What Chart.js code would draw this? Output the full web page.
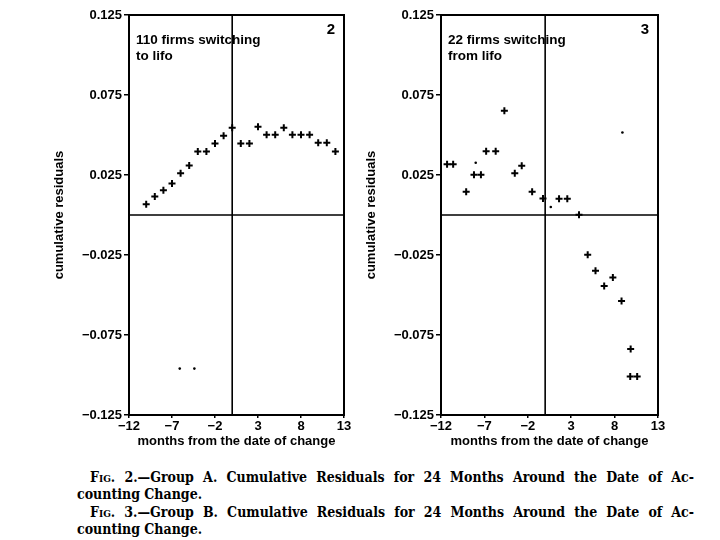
<!DOCTYPE html>
<html>
<head>
<meta charset="utf-8">
<script src="https://cdn.jsdelivr.net/npm/chart.js@4.4.1/dist/chart.umd.min.js"></script>
<style>
body { margin: 0; background: #fff; width: 720px; height: 540px; position: relative; overflow: hidden; }
canvas { position: absolute; top: 0; }
#left { left: 0; }
#right { left: 360px; }
.cap { position: absolute; font-family: "DejaVu Serif", serif; font-stretch: condensed; font-weight: bold; font-size: 14px; line-height: 17.5px; color: #000; white-space: nowrap; }
.just { white-space: normal; text-align: justify; text-align-last: justify; }
.sc { font-variant: small-caps; }
</style>
</head>
<body>
<canvas id="left" width="360" height="460"></canvas>
<canvas id="right" width="360" height="460"></canvas>
<div class="cap just" style="left:90px;top:469px;width:604px"><span class="sc">Fig.</span> 2.—Group A. Cumulative Residuals for 24 Months Around the Date of Ac-</div>
<div class="cap" style="left:77px;top:486px">counting Change.</div>
<div class="cap just" style="left:90px;top:504px;width:604px"><span class="sc">Fig.</span> 3.—Group B. Cumulative Residuals for 24 Months Around the Date of Ac-</div>
<div class="cap" style="left:77px;top:521px">counting Change.</div>
<script>
// tick labels
var xTicks = [-12, -7, -2, 3, 8, 13];
var yTicks = [-0.125, -0.075, -0.025, 0.025, 0.075, 0.125];

// Group A: 110 firms switching to lifo
var monthsA = [-10, -9, -8, -7, -6, -5, -4, -3, -2, -1, 0, 1, 2, 3, 4, 5, 6, 7, 8, 9, 10, 11, 12];
var residA = [0.0067, 0.0115, 0.0154, 0.0197, 0.0261, 0.0309, 0.0397, 0.0397, 0.0447, 0.0496, 0.0546,
  0.0447, 0.0447, 0.0552, 0.0501, 0.0501, 0.0546, 0.0501, 0.0501, 0.0501, 0.0451, 0.0451, 0.0397];
var dotMonthsA = [-6.1, -4.4];
var dotResidA = [-0.096, -0.096];

// Group B: 22 firms switching from lifo
var monthsB = [-11.3, -10.6, -9.1, -8.2, -7.4, -6.8, -5.7, -4.7, -3.5, -2.7, -1.5, -0.25, 1.6, 2.55,
  3.9, 4.9, 5.8, 6.8, 7.8, 8.8, 9.85, 9.8, 10.6];
var residB = [0.0317, 0.0317, 0.0145, 0.0252, 0.0252, 0.0399, 0.0399, 0.0652, 0.0261, 0.0308, 0.0145,
  0.0103, 0.0101, 0.0101, 0.0002, -0.0248, -0.0348, -0.0443, -0.0391, -0.0537, -0.0837, -0.101, -0.101];
var dotMonthsB = [-8.0, 0.65, 8.9];
var dotResidB = [0.0327, 0.005, 0.0516];

var sans = '"Liberation Sans", Arial, sans-serif';

function minus(s) { return String(s).replace('-', '\u2212'); }

function toPoints(xs, ys) {
  return xs.map(function (x, i) { return { x: x, y: ys[i] }; });
}

var panelDecor = {
  id: 'panelDecor',
  beforeDatasetsDraw: function (chart, args, opts) {
    var ctx = chart.ctx, a = chart.chartArea;
    var x0 = chart.scales.x.getPixelForValue(0);
    var y0 = chart.scales.y.getPixelForValue(0);
    ctx.save();
    ctx.strokeStyle = '#000';
    ctx.lineWidth = 1.6;
    ctx.beginPath();
    ctx.moveTo(x0, a.top); ctx.lineTo(x0, a.bottom);
    ctx.moveTo(a.left, y0); ctx.lineTo(a.right, y0);
    ctx.stroke();
    ctx.lineWidth = 2;
    ctx.strokeRect(a.left, a.top, a.right - a.left, a.bottom - a.top);

    ctx.fillStyle = '#000';
    ctx.textBaseline = 'alphabetic';
    ctx.textAlign = 'left';
    ctx.font = 'bold 13.5px ' + sans;
    opts.lines.forEach(function (t, i) {
      ctx.fillText(t, a.left + 7, a.top + 29 + i * 16);
    });
    ctx.textAlign = 'right';
    ctx.font = 'bold 15px ' + sans;
    ctx.fillText(opts.num, a.right - 9, a.top + 19);
    ctx.restore();
  }
};

function makePanel(id, months, resid, dotMonths, dotResid, lines, num, padL, padR) {
  return new Chart(document.getElementById(id), {
    type: 'scatter',
    data: {
      datasets: [
        {
          data: toPoints(months, resid),
          pointStyle: 'cross',
          pointRadius: 3.5,
          borderWidth: 2,
          borderColor: '#000'
        },
        {
          data: toPoints(dotMonths, dotResid),
          pointStyle: 'circle',
          pointRadius: 1.3,
          borderWidth: 0,
          backgroundColor: '#000'
        }
      ]
    },
    options: {
      responsive: false,
      animation: false,
      devicePixelRatio: 1,
      layout: { padding: { left: padL, right: padR, top: 15, bottom: 11 } },
      plugins: {
        legend: { display: false },
        tooltip: { enabled: false },
        panelDecor: { lines: lines, num: num }
      },
      scales: {
        x: {
          type: 'linear',
          min: -12,
          max: 13,
          afterBuildTicks: function (s) { s.ticks = xTicks.map(function (v) { return { value: v }; }); },
          afterFit: function (s) { s.height = 34; },
          ticks: {
            color: '#000',
            padding: 1,
            font: { family: sans, size: 13, weight: 'bold' },
            callback: function (v) { return minus(v); }
          },
          grid: { drawOnChartArea: false, drawTicks: true, tickLength: 3, color: '#000', lineWidth: 1.5 },
          border: { display: false },
          title: {
            display: true,
            text: 'months from the date of change',
            color: '#000',
            padding: { top: 0, bottom: 0 },
            font: { family: sans, size: 13, weight: 'bold' }
          }
        },
        y: {
          min: -0.125,
          max: 0.125,
          afterBuildTicks: function (s) { s.ticks = yTicks.map(function (v) { return { value: v }; }); },
          afterFit: function (s) { s.width = 77; },
          ticks: {
            color: '#000',
            padding: 2,
            font: { family: sans, size: 13, weight: 'bold' },
            callback: function (v) { return minus(v.toFixed(3)); }
          },
          grid: { drawOnChartArea: false, drawTicks: true, tickLength: 5, color: '#000', lineWidth: 1.5 },
          border: { display: false },
          title: {
            display: true,
            text: 'cumulative residuals',
            color: '#000',
            padding: { top: 0, bottom: 0 },
            font: { family: sans, size: 13, weight: 'bold' }
          }
        }
      }
    },
    plugins: [panelDecor]
  });
}

makePanel('left', monthsA, residA, dotMonthsA, dotResidA, ['110 firms switching', 'to lifo'], '2', 52, 16);
makePanel('right', monthsB, residB, dotMonthsB, dotResidB, ['22 firms switching', 'from lifo'], '3', 4, 62);
</script>
</body>
</html>
